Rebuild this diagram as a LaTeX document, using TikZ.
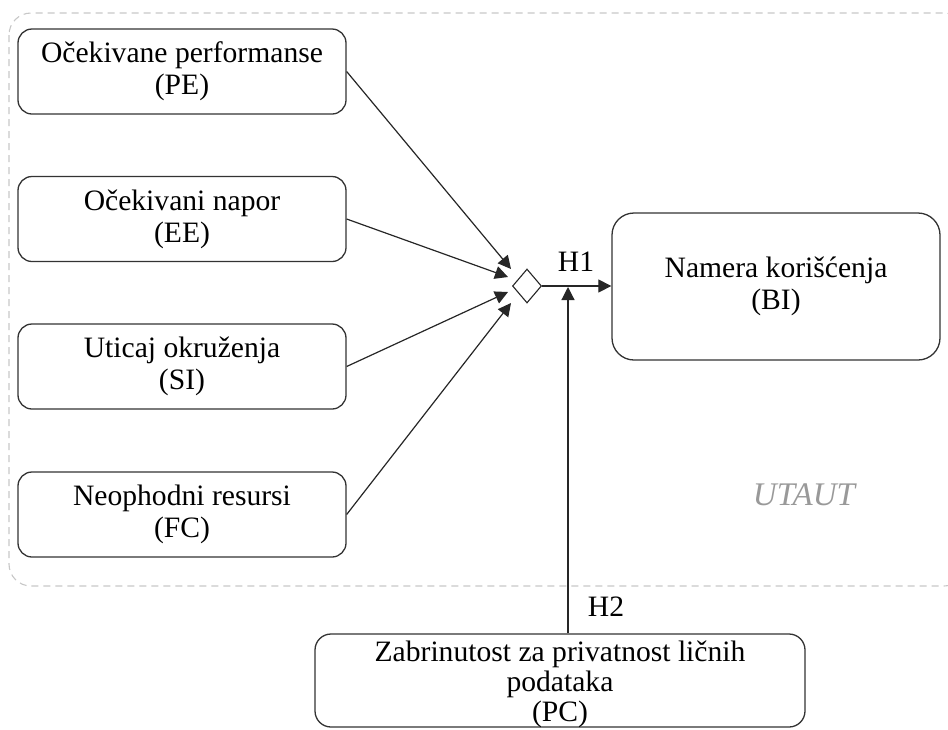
\documentclass[tikz,border=0pt]{standalone}
\usepackage{fontspec}
\setmainfont{Liberation Serif}
\usetikzlibrary{shapes.geometric,arrows.meta}
\begin{document}
\begin{tikzpicture}[x=1pt,y=-1pt,
  every node/.style={font=\fontsize{29.6}{32}\selectfont},
  construct/.style={draw=black!80, line width=1.3pt, rounded corners=14pt,
    align=center, inner sep=0pt, minimum width=328pt, minimum height=85pt},
  link/.style={draw=black!85, line width=1.2pt,
    -{Triangle[length=13pt,width=13pt]}},
  label/.style={inner sep=0pt}]
\useasboundingbox (0,0) rectangle (948,729);
\clip (0,0) rectangle (948,729);

% UTAUT frame
\draw[black!22, line width=1.1pt, dash pattern=on 7pt off 5pt, rounded corners=22pt]
  (9,13) rectangle (966,586);
\node[text=black!40, font=\fontsize{33}{38}\selectfont\itshape] (utaut) at (804,495) {UTAUT};

% predictors
\node[construct] (PE) at (182,71.5) {Očekivane performanse\\(PE)};
\node[construct] (EE) at (182,219) {Očekivani napor\\(EE)};
\node[construct] (SI) at (182,366.5) {Uticaj okruženja\\(SI)};
\node[construct] (FC) at (182,514.5) {Neophodni resursi\\(FC)};

% outcome and moderator
\node[construct, minimum height=147pt, rounded corners=22pt] (BI) at (776,286.5)
  {Namera korišćenja\\(BI)};
\node[construct, minimum width=490pt, minimum height=93pt, rounded corners=16pt] (PC) at (560,680.5) {};
\node[align=center, inner sep=0pt, font=\fontsize{29.6}{30}\selectfont] (PCtext) at (560,684.5)
  {Zabrinutost za privatnost ličnih\\podataka\\(PC)};

% combining point
\node[diamond, draw=black!85, line width=1.1pt, inner sep=0pt,
  minimum width=29pt, minimum height=34pt] (dia) at (527,286) {};

\coordinate (inPE) at (511,269);
\coordinate (inEE) at (508,277);
\coordinate (inSI) at (508,292);
\coordinate (inFC) at (511,303);
\coordinate (join) at (568,287);

\draw[link] (PE.east) -- (inPE);
\draw[link] (EE.east) -- (inEE);
\draw[link] (SI.east) -- (inSI);
\draw[link] (FC.east) -- (inFC);
\draw[link] (dia.east) -- (dia.east -| BI.west);
\draw[link] (join |- PC.north) -- (join);

\node[label] (h1) at (576,262) {H1};
\node[label] (h2) at (606,607) {H2};
\end{tikzpicture}
\end{document}
